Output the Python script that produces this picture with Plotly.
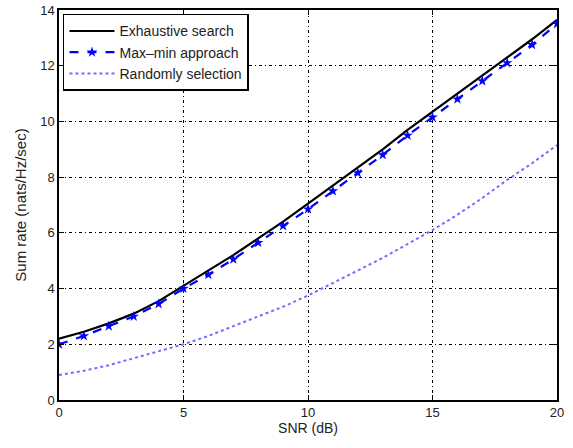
import plotly.graph_objects as go

snr = list(range(0, 21))
exhaustive = [2.2, 2.45, 2.75, 3.1, 3.55, 4.1, 4.65, 5.2, 5.8, 6.4, 7.05, 7.7, 8.35, 9.0, 9.7, 10.35, 11.0, 11.65, 12.3, 12.95, 13.65]
maxmin = [2.0, 2.3, 2.65, 3.0, 3.45, 4.0, 4.5, 5.05, 5.65, 6.25, 6.85, 7.5, 8.15, 8.8, 9.5, 10.15, 10.8, 11.45, 12.1, 12.75, 13.5]
randomsel = [0.9, 1.05, 1.25, 1.5, 1.75, 2.0, 2.3, 2.65, 3.0, 3.35, 3.75, 4.2, 4.65, 5.1, 5.6, 6.1, 6.65, 7.25, 7.9, 8.5, 9.15]
xticks = [0, 5, 10, 15, 20]
yticks = [0, 2, 4, 6, 8, 10, 12, 14]

fig = go.Figure()
fig.add_trace(go.Scatter(x=snr, y=exhaustive, mode="lines", name="Exhaustive search",
                         line=dict(color="black", width=2.2)))
fig.add_trace(go.Scatter(x=snr, y=maxmin, mode="lines+markers", name="Max\u2013min approach",
                         line=dict(color="#0000ff", width=2.2, dash="dash"),
                         marker=dict(symbol="star", size=8, color="#0000ff")))
fig.add_trace(go.Scatter(x=snr, y=randomsel, mode="lines", name="Randomly selection",
                         line=dict(color="#6f6fff", width=2, dash="dot")))

axis_common = dict(showline=True, mirror="ticks", linecolor="black", linewidth=1.5,
                   ticks="inside", ticklen=5, tickcolor="black", automargin=False,
                   showgrid=True, gridcolor="black", griddash="3px,3px,1px,3px", gridwidth=1,
                   zeroline=False, tickfont=dict(size=13, color="#222"))
fig.update_xaxes(range=[0, 20], tickvals=xticks,
                 title=dict(text="SNR (dB)", font=dict(size=14, color="#222"), standoff=2),
                 **axis_common)
fig.update_yaxes(range=[0, 14], tickvals=yticks,
                 title=dict(text="Sum rate (nats/Hz/sec)", font=dict(size=15, color="#222"), standoff=10),
                 **axis_common)

fig.update_layout(
    width=573, height=448,
    margin=dict(l=59, r=16, t=10, b=48),
    paper_bgcolor="white", plot_bgcolor="white",
    font=dict(family="Liberation Sans, Arial, sans-serif", color="#222"),
    legend=dict(x=0.008, y=0.99, xanchor="left", yanchor="top",
                bgcolor="white", bordercolor="black", borderwidth=1.5,
                itemwidth=45,
                font=dict(size=14, color="#222"), tracegroupgap=0),
    showlegend=True,
)

fig.write_html("out.html", config={"displayModeBar": False},
               post_script="document.body.style.margin='0';")
